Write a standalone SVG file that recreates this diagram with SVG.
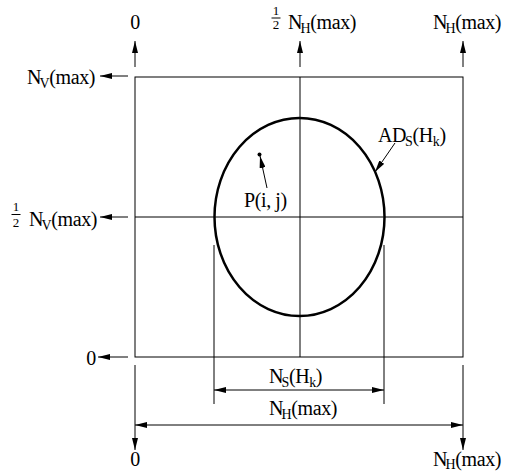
<svg xmlns="http://www.w3.org/2000/svg" width="510" height="473" viewBox="0 0 510 473">
<style>
.ln{stroke:#000;stroke-width:1;fill:none}
.ar{stroke:#000;stroke-width:1;fill:none;marker-end:url(#ah)}
.dim{stroke:#000;stroke-width:1;fill:none;marker-start:url(#ah);marker-end:url(#ah)}
.el{stroke:#000;stroke-width:2.5;fill:none}
text{font-family:"Liberation Serif","Times New Roman",serif;font-size:20px;fill:#000;letter-spacing:-0.4px}
.sub{font-size:14px}
.fr{font-size:13px;text-anchor:middle;letter-spacing:0}
</style>
<defs>
<marker id="ah" markerUnits="userSpaceOnUse" viewBox="0 0 12 6" refX="12" refY="3" markerWidth="12" markerHeight="6" orient="auto-start-reverse">
<path d="M0,0 L12,3 L0,6 Z" fill="#000"/>
</marker>
</defs>
<g id="frame">
<rect class="ln" x="135" y="77" width="328" height="280"/>
<line class="ln" x1="300" y1="77" x2="300" y2="357"/>
<line class="ln" x1="135" y1="217" x2="463" y2="217"/>
</g>
<g id="ellipse">
<ellipse class="el" cx="299.5" cy="217" rx="85" ry="99"/>
</g>
<g id="point">
<circle cx="259.5" cy="154.5" r="2" fill="#000"/>
</g>
<g id="connectors">
<line class="ar" x1="135" y1="67" x2="135" y2="41"/>
<line class="ar" x1="300" y1="67" x2="300" y2="41"/>
<line class="ar" x1="463" y1="67" x2="463" y2="41"/>
<line class="ar" x1="128" y1="76" x2="100" y2="76"/>
<line class="ar" x1="128" y1="217" x2="100" y2="217"/>
<line class="ar" x1="128" y1="357" x2="98" y2="357"/>
<line class="ar" x1="395" y1="143" x2="375" y2="172"/>
<line class="ar" x1="267" y1="188" x2="260" y2="156"/>
<line class="ln" x1="214" y1="245" x2="214" y2="404"/>
<line class="ln" x1="384" y1="245" x2="384" y2="404"/>
<line class="dim" x1="214" y1="390" x2="384" y2="390"/>
<line class="ln" x1="135" y1="365" x2="135" y2="425"/>
<line class="ln" x1="463" y1="365" x2="463" y2="425"/>
<line class="dim" x1="135" y1="425" x2="463" y2="425"/>
<line class="ar" x1="135" y1="425" x2="135" y2="450"/>
<line class="ar" x1="463" y1="425" x2="463" y2="450"/>
</g>
<g id="labels">
<text x="135" y="29" text-anchor="middle">0</text>
<text class="fr" x="276" y="15">1</text>
<line class="ln" x1="271.5" y1="18" x2="280.5" y2="18"/>
<text class="fr" x="276" y="29">2</text>
<text x="288" y="29">N<tspan class="sub" dx="-1.5" dy="4">H</tspan><tspan dy="-4">(max)</tspan></text>
<text x="433" y="29">N<tspan class="sub" dx="-1.5" dy="4">H</tspan><tspan dy="-4">(max)</tspan></text>
<text x="27" y="84">N<tspan class="sub" dx="-1.5" dy="4">V</tspan><tspan dy="-4">(max)</tspan></text>
<text class="fr" x="16" y="211">1</text>
<line class="ln" x1="11.5" y1="214.5" x2="20.5" y2="214.5"/>
<text class="fr" x="16" y="227">2</text>
<text x="29" y="226">N<tspan class="sub" dx="-1.5" dy="4">V</tspan><tspan dy="-4">(max)</tspan></text>
<text x="91" y="365" text-anchor="middle">0</text>
<text x="378" y="142">AD<tspan class="sub" dx="-1" dy="4">S</tspan><tspan dy="-4">(H</tspan><tspan class="sub" dy="4">k</tspan><tspan dy="-4">)</tspan></text>
<text x="244" y="207">P(i, j)</text>
<text x="269" y="383">N<tspan class="sub" dx="-1.5" dy="4">S</tspan><tspan dy="-4">(H</tspan><tspan class="sub" dy="4">k</tspan><tspan dy="-4">)</tspan></text>
<text x="269" y="415">N<tspan class="sub" dx="-1.5" dy="4">H</tspan><tspan dy="-4">(max)</tspan></text>
<text x="135" y="466" text-anchor="middle">0</text>
<text x="433" y="466">N<tspan class="sub" dx="-1.5" dy="3">H</tspan><tspan dy="-3">(max)</tspan></text>
</g>
</svg>
